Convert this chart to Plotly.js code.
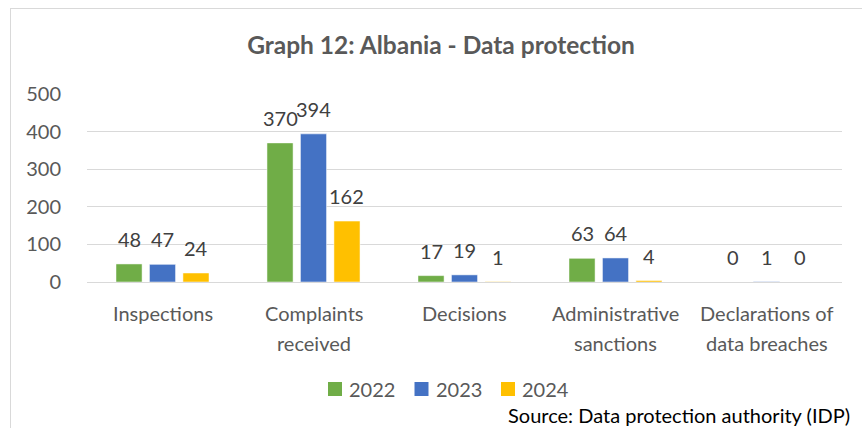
<!DOCTYPE html>
<html>
<head>
<meta charset="utf-8">
<script src="https://cdn.plot.ly/plotly-3.0.1.min.js"></script>
<style>
  html, body { margin: 0; padding: 0; background: #fff; }
  #wrap { position: relative; width: 862px; height: 428px; overflow: hidden; }
  #chart { width: 862px; height: 428px; }
  #frame { position: absolute; left: 10px; top: 8px; width: 900px; height: 500px;
           border: 1px solid #d9d9d9; pointer-events: none; box-sizing: border-box; }
</style>
</head>
<body>
<div id="wrap"><div id="chart"></div><div id="frame"></div></div>
<script>
const categories = ["Inspections", "Complaints received", "Decisions", "Administrative sanctions", "Declarations of data breaches"];
const tickLabels = ["Inspections", "Complaints<br>received", "Decisions", "Administrative<br>sanctions", "Declarations of<br>data breaches"];
const seriesNames = ["2022", "2023", "2024"];
const values2022 = [48, 370, 17, 63, 0];
const values2023 = [47, 394, 19, 64, 1];
const values2024 = [24, 162, 1, 4, 0];
const colors = ["#70AD47", "#4472C4", "#FFC000"];
const yTicks = [0, 100, 200, 300, 400, 500];

const FONT = "Lato, 'Open Sans', sans-serif";
const W = 862, H = 428;
const margin = { l: 87, r: 20, t: 94, b: 146 };
const plotW = W - margin.l - margin.r;
const plotH = H - margin.t - margin.b;
const bargap = 0.335;
const bargroupgap = 0.22;

// pixel -> paper helpers (for legend / source placement only)
const px2x = p => (p - margin.l) / plotW;
const py2y = p => (H - margin.b - p) / plotH;

const allValues = [values2022, values2023, values2024];
const traces = allValues.map((vals, i) => ({
  type: "bar",
  name: seriesNames[i],
  x: categories,
  y: vals,
  marker: { color: colors[i], line: { color: "#ffffff", width: 0.5 } },
  hoverinfo: "x+y+name",
  showlegend: false
}));

const catPx = plotW / categories.length;
const step = catPx * (1 - bargap) / allValues.length;

const annotations = [];
const shapes = [];
// data labels
allValues.forEach((vals, i) => {
  vals.forEach((v, j) => {
    annotations.push({
      x: categories[j], y: v, xref: "x", yref: "y",
      text: String(v), showarrow: false,
      xshift: (i - (allValues.length - 1) / 2) * step,
      yshift: 25, yanchor: "middle",
      font: { family: FONT, size: 20, color: "#404040" }
    });
  });
});
// category labels
tickLabels.forEach((lbl, j) => {
  lbl.split("<br>").forEach((line, k) => {
    annotations.push({
      x: categories[j], y: 0, xref: "x", yref: "y",
      text: line, showarrow: false,
      yshift: -31 - k * 29.5, yanchor: "middle",
      font: { family: FONT, size: 20, color: "#595959" }
    });
  });
});
// legend (drawn manually to match symbol size and spacing)
const legLeft = 328, legPitch = 86.5, legSize = 14, legY = 389;
seriesNames.forEach((name, i) => {
  const x0 = legLeft + i * legPitch;
  shapes.push({
    type: "rect", xref: "paper", yref: "paper",
    x0: px2x(x0), x1: px2x(x0 + legSize),
    y0: py2y(legY + legSize / 2), y1: py2y(legY - legSize / 2),
    fillcolor: colors[i], line: { width: 0 }
  });
  annotations.push({
    xref: "paper", yref: "paper",
    x: px2x(x0 + legSize + 5), y: py2y(legY),
    xanchor: "left", yanchor: "middle", showarrow: false,
    text: name,
    font: { family: FONT, size: 20, color: "#595959" }
  });
});
// source
annotations.push({
  xref: "paper", yref: "paper",
  x: px2x(852), y: py2y(415),
  xanchor: "right", yanchor: "middle", showarrow: false,
  text: "Source: Data protection authority (IDP)",
  font: { family: FONT, size: 20, color: "#000000" }
});

const layout = {
  width: W, height: H,
  margin: margin,
  paper_bgcolor: "#ffffff", plot_bgcolor: "#ffffff",
  font: { family: FONT, color: "#595959" },
  title: {
    text: "<b>Graph 12: Albania - Data protection</b>",
    x: 441 / W, xref: "container", xanchor: "center",
    y: 1 - 45 / H, yref: "container", yanchor: "middle",
    font: { family: FONT, size: 24.5, color: "#595959" }
  },
  barmode: "group",
  bargap: bargap,
  bargroupgap: bargroupgap,
  xaxis: {
    type: "category",
    range: [-0.5, categories.length - 0.5],
    showticklabels: false,
    showgrid: false, zeroline: false, showline: false,
    fixedrange: true
  },
  yaxis: {
    range: [0, 500],
    tickvals: yTicks,
    ticktext: yTicks.map(String),
    showgrid: true, gridcolor: "#d9d9d9", gridwidth: 1,
    zeroline: true, zerolinecolor: "#d9d9d9", zerolinewidth: 1,
    showline: false,
    ticks: "outside", ticklen: 21, tickcolor: "rgba(0,0,0,0)",
    tickfont: { family: FONT, size: 20, color: "#595959" },
    fixedrange: true
  },
  showlegend: false,
  shapes: shapes,
  annotations: annotations
};

Plotly.newPlot("chart", traces, layout, { displayModeBar: false, staticPlot: true });
</script>
</body>
</html>
